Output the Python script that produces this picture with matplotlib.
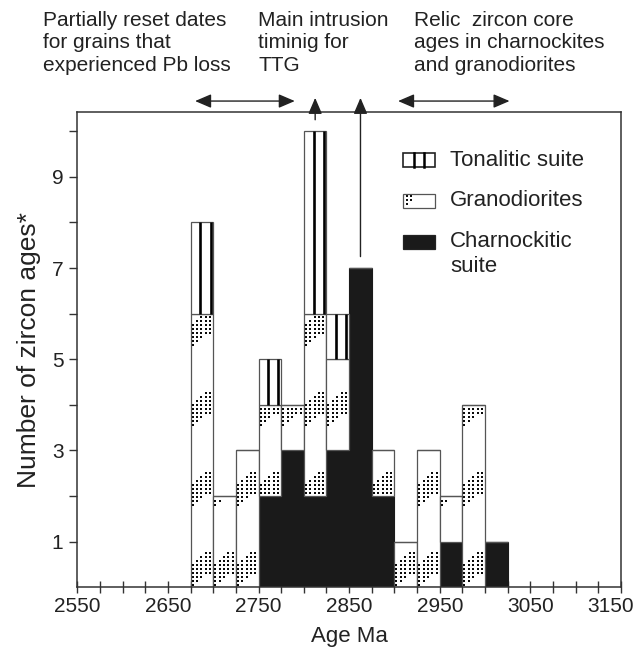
import numpy as np
import matplotlib
matplotlib.use("Agg")
import matplotlib.pyplot as plt
from matplotlib.patches import Rectangle
from matplotlib.transforms import ScaledTranslation

plt.rcParams["font.family"] = ["Liberation Sans", "DejaVu Sans"]

# bin left edges (Ma), 25 Ma wide
bin_left = np.arange(2675, 3025, 25)
charnockite = [0, 0, 0, 2, 3, 2, 3, 7, 2, 0, 0, 1, 0, 1]
granodiorite = [6, 2, 3, 2, 1, 4, 2, 0, 1, 1, 3, 1, 4, 0]
tonalite = [2, 0, 0, 1, 0, 4, 1, 0, 0, 0, 0, 0, 0, 0]
bin_width = 25

series_labels = ["Tonalitic suite", "Granodiorites", "Charnockitic\nsuite"]
notes = ["Partially reset dates\nfor grains that\nexperienced Pb loss",
         "Main intrusion\ntiminig for\nTTG",
         "Relic  zircon core\nages in charnockites\nand granodiorites"]

W, H = 634, 652
fig = plt.figure(figsize=(W / 100, H / 100), dpi=100)
ax = fig.add_axes([77.3 / W, 1 - 587.3 / H, (621 - 77.3) / W, (587.3 - 112) / H])
xlim = (2550, 3150)
ylim = (0, 10.42)
ax.set_xlim(*xlim)
ax.set_ylim(*ylim)

edge = "#555555"
dark = "#1a1a1a"
char = np.array(charnockite)
gran = np.array(granodiorite)
ton = np.array(tonalite)
centers = bin_left + bin_width / 2

ax.bar(centers, char, bin_width, color=dark, edgecolor=dark, lw=0.8, zorder=2)
ax.bar(centers, gran, bin_width, bottom=char, color="white", edgecolor=edge, lw=0.9, zorder=2)
ax.bar(centers, ton, bin_width, bottom=char + gran, color="white", edgecolor=edge, lw=0.9, zorder=2)

# pixel scales for the textures
px_x = (621 - 77.3) / (xlim[1] - xlim[0])
px_y = (587.3 - 112) / (ylim[1] - ylim[0])

# granodiorite dot texture: diagonal bands of dots per bin
dots_x, dots_y = [], []
for left, b, h in zip(bin_left, char, gran):
    if h == 0:
        continue
    y0, y1 = b * px_y, (b + h) * px_y
    for cx in np.arange(2.0, bin_width * px_x - 2, 4.4):
        for cy in np.arange(2, y1, 4.0):
            if cy < y0 + 1.5 or cy > y1 - 1.5:
                continue
            if (cy - 0.7 * cx) % 80 < 24:
                dots_x.append(left + cx / px_x)
                dots_y.append(cy / px_y)
ax.scatter(dots_x, dots_y, marker="s", s=3.2, color="#0a0a0a", lw=0, zorder=3)

# tonalite vertical bars
for left, b, h in zip(bin_left, char + gran, ton):
    if h == 0:
        continue
    for f in (0.43, 0.88):
        ax.vlines(left + f * bin_width, b, b + h, color="black", lw=1.9, zorder=3)

# axes styling
for s in ax.spines.values():
    s.set_color("#333333")
    s.set_linewidth(1.1)
ax.set_xticks(np.arange(2550, 3151, 100))
ax.set_xticks(np.arange(2550, 3151, 25), minor=True)
ax.set_yticks(range(1, 11))
ax.set_yticklabels([str(v) if v % 2 else "" for v in range(1, 11)])
ax.tick_params(axis="x", which="both", direction="inout", length=8, width=1,
               color="#333333", labelsize=15, pad=3, labelcolor="#222222")
ax.tick_params(axis="y", direction="out", length=6, width=1, color="#333333",
               labelsize=15, pad=4, labelcolor="#222222")
ax.set_xlabel("Age Ma", fontsize=16, color="#222222", labelpad=7)
ax.set_ylabel("Number of zircon ages*", fontsize=19, color="#222222", labelpad=8)

# keep the last tick label inside the figure
last = ax.get_xticklabels()[-1]
last.set_transform(last.get_transform() + ScaledTranslation(-10 / 100, 0, fig.dpi_scale_trans))

# arrows above the plot
arrow_kw = dict(arrowstyle="<|-|>,head_length=0.7,head_width=0.3", color="#222222",
                lw=1, shrinkA=0, shrinkB=0, mutation_scale=14)
up_kw = dict(arrowstyle="-|>,head_length=0.7,head_width=0.3", color="#222222",
             lw=1, shrinkA=0, shrinkB=0, mutation_scale=14)
ax.annotate("", xy=(2790, 10.66), xytext=(2680, 10.66), arrowprops=arrow_kw,
            annotation_clip=False)
ax.annotate("", xy=(3027, 10.66), xytext=(2904, 10.66), arrowprops=arrow_kw,
            annotation_clip=False)
top_tall = (char + gran + ton)
for i in (5, 7):
    ax.annotate("", xy=(centers[i], 10.73), xytext=(centers[i], top_tall[i] + 0.25),
                arrowprops=up_kw, annotation_clip=False)

for x, t in zip([42.7, 258.3, 414], notes):
    fig.text(x / W, 1 - 11 / H, t, fontsize=15, va="top", ha="left",
             linespacing=1.22, color="#222222")

# legend drawn by hand
lx0, lw_, lh = 403, 32, 14
rows = [160, 201, 242]
for r, lab, kind in zip(rows, series_labels, ["t", "g", "c"]):
    yb = 1 - (r + lh / 2) / H
    rect = Rectangle((lx0 / W, yb), lw_ / W, lh / H, transform=fig.transFigure,
                     facecolor=dark if kind == "c" else "white",
                     edgecolor="#222222" if kind != "g" else edge, lw=1.2 if kind == "t" else 0.9)
    fig.add_artist(rect)
    if kind == "t":
        for f in (1 / 3, 2 / 3):
            fig.add_artist(plt.Line2D([(lx0 + f * lw_) / W] * 2, [yb, yb + lh / H],
                                      transform=fig.transFigure, color="black", lw=1.8))
    if kind == "g":
        for dx in (3, 7):
            for dy in (3, 7, 11):
                if dx == 7 and dy == 11:
                    continue
                fig.add_artist(Rectangle(((lx0 + dx) / W, 1 - (r - lh / 2 + dy) / H),
                                         2 / W, 2 / H, transform=fig.transFigure,
                                         facecolor="#111111", lw=0))
    fig.text(450 / W, 1 - (r - 11) / H if kind == "c" else 1 - r / H, lab,
             fontsize=16, va="top" if kind == "c" else "center", ha="left",
             linespacing=1.25, color="#222222")

fig.savefig("out.png", dpi=100)
